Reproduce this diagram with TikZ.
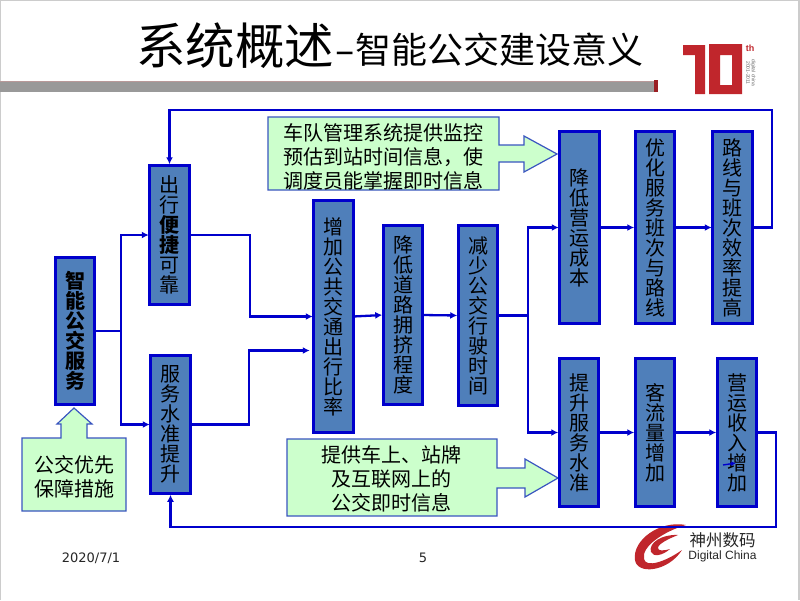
\documentclass[tikz,border=0pt]{standalone}
\usepackage{fontspec}
\usetikzlibrary{arrows.meta}
\setmainfont{DejaVu Sans}
\newfontfamily\cjk{Noto Sans CJK SC}
\newfontfamily\lsans{Liberation Sans}
\definecolor{linkblue}{HTML}{0000CC}
\definecolor{boxblue}{HTML}{4F7FBA}
\definecolor{notegreen}{HTML}{CCFFCC}
\definecolor{noteline}{HTML}{3A55C0}
\definecolor{logored}{HTML}{C0262C}
\tikzset{
  stepbox/.style={draw=linkblue, line width=2.8pt, fill=boxblue, text=black, inner sep=0pt, outer sep=0pt,
    minimum width=39.5, align=center, font=\cjk\fontsize{20}{20}\selectfont},
  notebox/.style={draw=noteline, line width=1.2pt, fill=notegreen},
  notetext/.style={inner sep=0pt, align=center, font=\cjk\fontsize{20}{24}\selectfont},
  link/.style={draw=linkblue, line width=2.3pt, -{Latex[length=7pt,width=7pt]}, shorten >=1pt},
}
\begin{document}
\begin{tikzpicture}[x=1pt,y=1pt]
\useasboundingbox (0,0) rectangle (800,-600);
\fill [white] (0,0) rectangle (800,-600);
\draw [black!20, line width=1.5pt] (0.5,-600) -- (0.5,-0.5) -- (799,-0.5) -- (799,-600);
% title band
\fill [black!40] (0,-81) rectangle (654,-92);
\draw [red!30!black!40, line width=0.8pt] (0,-81) -- (654,-81);
\fill [logored!80!black] (654,-80) rectangle (658,-92);
\node [inner sep=0pt, font=\cjk\fontsize{49.5}{50}\selectfont] (titlemain) at (235,-46) {系统概述};
\node [inner sep=0pt, anchor=west, font=\cjk\fontsize{36}{36}\selectfont] (titlesub) at (334,-50) {\scalebox{1.7}[1]{-}智能公交建设意义};
% ten years mark
\fill [logored] (683,-45) -- (705,-45) -- (705,-94) -- (695,-94) -- (695,-55) -- (683,-55) -- cycle;
\fill [logored, even odd rule] (709,-44) rectangle (742,-94) (720,-55) rectangle (732,-85);
\node [inner sep=0pt, text=logored, font=\lsans\bfseries\fontsize{9}{9}\selectfont] (tenth) at (750,-48) {th};
\node [inner sep=0pt, rotate=-90, text=black!60, align=center, font=\lsans\fontsize{5}{5.5}\selectfont] (tenname) at (751,-73) {digital china\\2001-2011};
% company mark
\fill [logored] (686,-525) .. controls (660,-520) and (632,-540) .. (635,-560) .. controls (637,-575) and (668,-572) .. (682,-550)
  .. controls (665,-562) and (646,-568) .. (644,-559) .. controls (641,-546) and (665,-531) .. (686,-525) -- cycle;
\fill [logored] (678,-535) .. controls (662,-534) and (648,-543) .. (651,-552) .. controls (653,-557) and (662,-556) .. (670,-549)
  .. controls (663,-551) and (658,-551) .. (658,-548) .. controls (658,-544) and (668,-539) .. (678,-535) -- cycle;
\node [inner sep=0pt, text=black!85, font=\cjk\fontsize{16.5}{17}\selectfont] (brandcn) at (722.5,-540) {神州数码};
\node [inner sep=0pt, text=black!85, font=\lsans\fontsize{12}{13}\selectfont] (branden) at (722.5,-556.5) {Digital China};
% notes
\draw [notebox] (22,-438) -- (61,-438) -- (61,-424) -- (57,-424) -- (74,-408) -- (92,-424) -- (87,-424) -- (87,-438)
  -- (126,-438) -- (126,-511) -- (22,-511) -- cycle;
\node [notetext] (notepriority) at (74,-477) {公交优先\\保障措施};
\draw [notebox] (268,-117) -- (499,-117) -- (499,-145) -- (524,-145) -- (524,-136) -- (557,-154) -- (524,-172) -- (524,-162)
  -- (499,-162) -- (499,-190) -- (268,-190) -- cycle;
\node [notetext] (notefleet) at (383.5,-156.5) {车队管理系统提供监控\\预估到站时间信息，使\\调度员能掌握即时信息};
\draw [notebox] (287,-439) -- (497,-439) -- (497,-468) -- (525,-468) -- (525,-459) -- (558,-478) -- (525,-497) -- (525,-488)
  -- (497,-488) -- (497,-516) -- (287,-516) -- cycle;
\node [notetext] (noteinfo) at (391.5,-478.5) {提供车上、站牌\\及互联网上的\\公交即时信息};
% steps
\node [stepbox, minimum height=147] (smart) at (75,-331) {\bfseries 智\\\bfseries 能\\\bfseries 公\\\bfseries 交\\\bfseries 服\\\bfseries 务};
\node [stepbox, minimum height=139.5] (travel) at (169.5,-235) {出\\行\\\bfseries 便\\\bfseries 捷\\可\\靠};
\node [stepbox, minimum height=138.5] (quality) at (170.5,-424.5) {服\\务\\水\\准\\提\\升};
\node [stepbox, minimum height=232.5] (share) at (333.5,-316.5) {增\\加\\公\\共\\交\\通\\出\\行\\比\\率};
\node [stepbox, minimum height=179.5] (congestion) at (403,-315) {降\\低\\道\\路\\拥\\挤\\程\\度};
\node [stepbox, minimum height=180.5] (runtime) at (478,-315.5) {减\\少\\公\\交\\行\\驶\\时\\间};
\node [stepbox, minimum height=192.5] (cost) at (579.5,-227.5) {降\\低\\营\\运\\成\\本};
\node [stepbox, minimum height=192.5] (schedule) at (655,-227.5) {优\\化\\服\\务\\班\\次\\与\\路\\线};
\node [stepbox, minimum height=192.5] (routes) at (732.5,-227.5) {路\\线\\与\\班\\次\\效\\率\\提\\高};
\node [stepbox, minimum height=148.5] (service) at (579,-432.5) {提\\升\\服\\务\\水\\准};
\node [stepbox, minimum height=148.5] (riders) at (655,-432.5) {客\\流\\量\\增\\加};
\node [stepbox, minimum height=148.5] (revenue) at (737,-432.5) {营\\运\\收\\入\\增\\加};
% links
\draw [link] (smart.east) -- ++(26,0) |- (travel.west);
\draw [link] (smart.east) -- ++(26,0) |- (quality.west);
\draw [link] (travel.east) -- ++(61,0) |- (share.west);
\draw [link, shorten >=4pt] (quality.east) -- ++(59,0) |- ([yshift=-34]share.west);
\draw [link] (share.east) -- (congestion.west);
\draw [link] (congestion.east) -- (runtime.west);
\draw [link] (runtime.east) -- ++(30,0) |- (cost.west);
\draw [link] (runtime.east) -- ++(30,0) |- (service.west);
\draw [link] (cost.east) -- (schedule.west);
\draw [link] (schedule.east) -- (routes.west);
\draw [link] (service.east) -- (riders.west);
\draw [link] (riders.east) -- (revenue.west);
\draw [link] (routes.east) -- ++(20,0) -- ++(0,117.5) -| (travel.north);
\draw [link] (revenue.east) -- ++(19,0) -- ++(0,-94.5) -| (quality.south);
% stray arrow on the last box
\coordinate (straya) at (723,-465);
\coordinate (strayb) at (736,-463);
\draw [draw=linkblue, line width=1.4pt, -{Latex[length=5pt,width=5pt]}] (straya) -- (strayb);
% footer
\node [inner sep=0pt, font=\fontsize{13}{13}\selectfont, text=black!85] (footdate) at (91,-558) {2020/7/1};
\node [inner sep=0pt, font=\fontsize{13}{13}\selectfont, text=black!85] (footpage) at (423,-558) {5};
\end{tikzpicture}
\end{document}
